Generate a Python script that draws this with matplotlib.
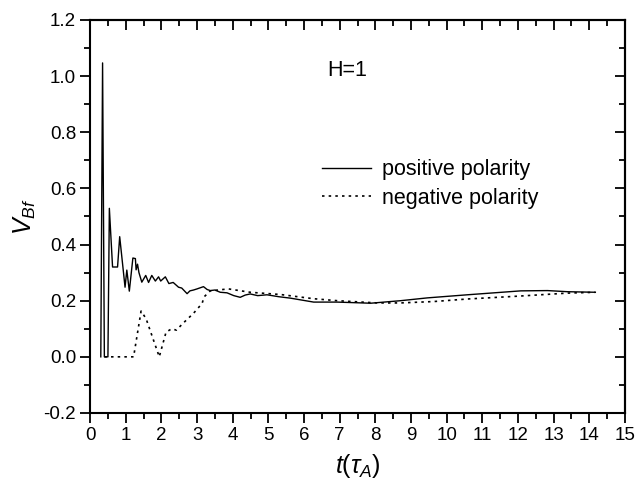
import matplotlib
matplotlib.use("Agg")
import matplotlib.pyplot as plt
from matplotlib.ticker import MultipleLocator, FormatStrFormatter

plt.rcParams['font.family'] = ['Liberation Sans', 'DejaVu Sans']
plt.rcParams['mathtext.fontset'] = 'custom'
plt.rcParams['mathtext.it'] = 'Liberation Sans:italic'
plt.rcParams['mathtext.rm'] = 'Liberation Sans'

t_pos = [0.30, 0.35, 0.40, 0.50, 0.54, 0.63, 0.77, 0.83, 0.98, 1.03, 1.10, 1.20, 1.27,
         1.29, 1.33, 1.37, 1.45, 1.56, 1.64, 1.73, 1.83, 1.92, 1.98, 2.11, 2.21, 2.33,
         2.48, 2.57, 2.72, 2.80, 2.90, 3.00, 3.18, 3.28, 3.37, 3.50, 3.65, 3.84, 4.03,
         4.21, 4.35, 4.49, 4.70, 4.96, 5.30, 5.62, 6.27, 6.93, 7.87, 8.71, 9.46, 10.58,
         12.08, 12.83, 13.39, 14.17]
v_pos = [0.0, 1.047, 0.0, 0.0, 0.529, 0.32, 0.32, 0.428, 0.248, 0.309, 0.234, 0.352, 0.35,
         0.31, 0.33, 0.30, 0.266, 0.29, 0.265, 0.29, 0.27, 0.285, 0.27, 0.285, 0.261, 0.265,
         0.248, 0.245, 0.225, 0.235, 0.238, 0.242, 0.25, 0.24, 0.236, 0.238, 0.23, 0.228, 0.218,
         0.212, 0.22, 0.224, 0.218, 0.221, 0.214, 0.209, 0.195, 0.195, 0.191, 0.20, 0.21, 0.221,
         0.235, 0.236, 0.232, 0.23]

t_neg = [0.40, 1.22, 1.43, 1.57, 1.94, 2.13, 2.29, 2.42, 2.61, 2.90, 3.14, 3.20, 3.37,
         3.88, 4.49, 5.34, 6.27, 6.93, 8.05, 8.71, 9.64, 10.58, 11.99, 13.39, 14.17]
v_neg = [0.0, 0.0, 0.163, 0.136, 0.0, 0.088, 0.10, 0.095, 0.12, 0.155, 0.19, 0.214, 0.235,
         0.242, 0.23, 0.222, 0.207, 0.20, 0.192, 0.192, 0.197, 0.206, 0.216, 0.227, 0.23]

fig = plt.figure(figsize=(6.39, 4.87), dpi=100)
ax = fig.add_axes([0.141, 0.152, 0.837, 0.807])

ax.plot(t_pos, v_pos, color='black', lw=1.0, ls='-', label='positive polarity')
ax.plot(t_neg, v_neg, color='black', lw=1.2, ls=(0, (1.5, 2.5)), label='negative polarity')

ax.set_xlim(0, 15)
ax.set_ylim(-0.2, 1.2)
ax.xaxis.set_major_locator(MultipleLocator(1))
ax.xaxis.set_minor_locator(MultipleLocator(0.5))
ax.yaxis.set_major_locator(MultipleLocator(0.2))
ax.yaxis.set_minor_locator(MultipleLocator(0.1))
ax.yaxis.set_major_formatter(FormatStrFormatter('%.1f'))
ax.tick_params(which='both', direction='out', width=1.3, labelsize=13.5, pad=3)
ax.tick_params(which='major', length=7)
ax.tick_params(which='minor', length=4)
for s in ax.spines.values():
    s.set_linewidth(1.5)

top = ax.secondary_xaxis('top')
top.xaxis.set_major_locator(MultipleLocator(1))
top.xaxis.set_minor_locator(MultipleLocator(0.5))
top.tick_params(which='both', direction='in', labeltop=False, width=1.3)
top.tick_params(which='major', length=7)
top.tick_params(which='minor', length=4)
top.spines['top'].set_linewidth(1.5)

right = ax.secondary_yaxis('right')
right.yaxis.set_major_locator(MultipleLocator(0.2))
right.yaxis.set_minor_locator(MultipleLocator(0.1))
right.tick_params(which='both', direction='in', labelright=False, width=1.3)
right.tick_params(which='major', length=7)
right.tick_params(which='minor', length=4)
right.spines['right'].set_linewidth(1.5)

ax.set_xlabel(r'$t(\tau_A)$', fontsize=18, labelpad=6)
ax.set_ylabel(r'$V_{Bf}$', fontsize=18, labelpad=4)

ax.text(7.2, 1.02, 'H=1', fontsize=15.5, ha='center', va='center')
ax.legend(loc='upper left', bbox_to_anchor=(0.417, 0.667), frameon=False, fontsize=15.5,
          handlelength=2.3, handletextpad=0.5, labelspacing=0.35, borderaxespad=0)

fig.savefig('out.png', dpi=100)
